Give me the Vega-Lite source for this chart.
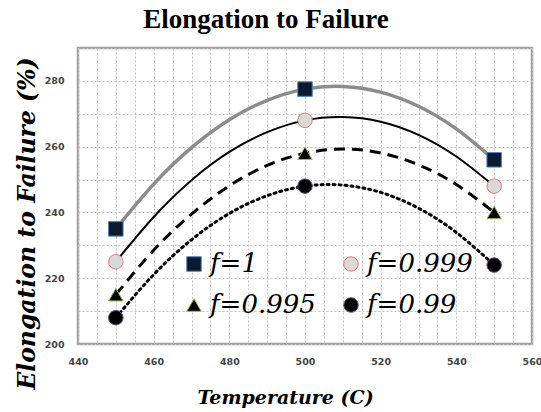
{
  "$schema": "https://vega.github.io/schema/vega-lite/v6.json",
  "width": 454,
  "height": 296,
  "autosize": {"type": "none"},
  "padding": {"left": 78, "top": 48, "right": 9, "bottom": 68},
  "background": "white",
  "config": {
    "view": {"stroke": "#a0a0a0", "strokeWidth": 2.5},
    "axis": {
      "domain": false,
      "ticks": false,
      "grid": true,
      "gridColor": "#c4c4c4",
      "gridDash": [2, 2],
      "gridWidth": 1,
      "labelFont": "DejaVu Sans",
      "labelFontWeight": "bold",
      "labelFontSize": 9.5,
      "labelColor": "#444444",
      "titleFont": "DejaVu Serif",
      "titleFontWeight": "bold",
      "titleFontStyle": "italic",
      "titleColor": "black"
    }
  },
  "title": {
    "text": "Elongation to Failure",
    "font": "Liberation Serif",
    "fontWeight": "bold",
    "fontSize": 27,
    "color": "black",
    "anchor": "middle",
    "dx": -39,
    "offset": 14
  },
  "datasets": {
    "pts": [
      {"series": "f=1", "T": 450, "E": 235},
      {"series": "f=1", "T": 500, "E": 277.5},
      {"series": "f=1", "T": 550, "E": 256},
      {"series": "f=0.999", "T": 450, "E": 225},
      {"series": "f=0.999", "T": 500, "E": 268},
      {"series": "f=0.999", "T": 550, "E": 248},
      {"series": "f=0.995", "T": 450, "E": 215},
      {"series": "f=0.995", "T": 500, "E": 258},
      {"series": "f=0.995", "T": 550, "E": 240},
      {"series": "f=0.99", "T": 450, "E": 208},
      {"series": "f=0.99", "T": 500, "E": 248},
      {"series": "f=0.99", "T": 550, "E": 224}
    ],
    "curves": [
      {"curve": "f=1", "T": 450, "E": 235},
      {"curve": "f=1", "T": 460, "E": 248.6},
      {"curve": "f=1", "T": 470, "E": 259.7},
      {"curve": "f=1", "T": 480, "E": 268.2},
      {"curve": "f=1", "T": 490, "E": 274.1},
      {"curve": "f=1", "T": 500, "E": 277.5},
      {"curve": "f=1", "T": 510, "E": 278.3},
      {"curve": "f=1", "T": 520, "E": 276.6},
      {"curve": "f=1", "T": 530, "E": 272.3},
      {"curve": "f=1", "T": 540, "E": 265.4},
      {"curve": "f=1", "T": 550, "E": 256},
      {"curve": "f=0.999", "T": 450, "E": 225},
      {"curve": "f=0.999", "T": 460, "E": 238.6},
      {"curve": "f=0.999", "T": 470, "E": 249.8},
      {"curve": "f=0.999", "T": 480, "E": 258.4},
      {"curve": "f=0.999", "T": 490, "E": 264.4},
      {"curve": "f=0.999", "T": 500, "E": 268},
      {"curve": "f=0.999", "T": 510, "E": 269},
      {"curve": "f=0.999", "T": 520, "E": 267.6},
      {"curve": "f=0.999", "T": 530, "E": 263.6},
      {"curve": "f=0.999", "T": 540, "E": 257},
      {"curve": "f=0.999", "T": 550, "E": 248},
      {"curve": "f=0.995", "T": 450, "E": 215},
      {"curve": "f=0.995", "T": 460, "E": 228.5},
      {"curve": "f=0.995", "T": 470, "E": 239.5},
      {"curve": "f=0.995", "T": 480, "E": 248.1},
      {"curve": "f=0.995", "T": 490, "E": 254.3},
      {"curve": "f=0.995", "T": 500, "E": 258},
      {"curve": "f=0.995", "T": 510, "E": 259.3},
      {"curve": "f=0.995", "T": 520, "E": 258.1},
      {"curve": "f=0.995", "T": 530, "E": 254.5},
      {"curve": "f=0.995", "T": 540, "E": 248.5},
      {"curve": "f=0.995", "T": 550, "E": 240},
      {"curve": "f=0.99", "T": 450, "E": 208},
      {"curve": "f=0.99", "T": 460, "E": 221.1},
      {"curve": "f=0.99", "T": 470, "E": 231.7},
      {"curve": "f=0.99", "T": 480, "E": 239.7},
      {"curve": "f=0.99", "T": 490, "E": 245.1},
      {"curve": "f=0.99", "T": 500, "E": 248},
      {"curve": "f=0.99", "T": 510, "E": 248.3},
      {"curve": "f=0.99", "T": 520, "E": 246.1},
      {"curve": "f=0.99", "T": 530, "E": 241.3},
      {"curve": "f=0.99", "T": 540, "E": 233.9},
      {"curve": "f=0.99", "T": 550, "E": 224}
    ]
  },
  "encoding": {
    "x": {
      "field": "T",
      "type": "quantitative",
      "scale": {"domain": [440, 560], "nice": false, "zero": false},
      "axis": {
        "title": "Temperature (C)",
        "titleFontSize": 19,
        "values": [440,445,450,455,460,465,470,475,480,485,490,495,500,505,510,515,520,525,530,535,540,545,550,555,560],
        "labelExpr": "datum.value % 20 == 0 ? datum.label : ''",
        "labelPadding": 12,
        "labelFlush": false,
        "titleX": 207,
        "titleY": 53,
        "titleBaseline": "middle",
        "titleAlign": "center"
      }
    },
    "y": {
      "field": "E",
      "type": "quantitative",
      "scale": {"domain": [200, 290], "nice": false, "zero": false},
      "axis": {
        "title": "Elongation to Failure (%)",
        "titleFontSize": 23.5,
        "values": [200,210,220,230,240,250,260,270,280,290],
        "labelExpr": "datum.value % 20 == 0 ? datum.label : ''",
        "labelPadding": 14,
        "titleX": -51,
        "titleY": 175,
        "titleAngle": -90,
        "titleBaseline": "middle",
        "titleAlign": "center"
      }
    }
  },
  "layer": [
    {
      "data": {"name": "curves"},
      "transform": [{"filter": "datum.curve == 'f=1'"}],
      "mark": {"type": "line", "color": "#8c8c8c", "strokeWidth": 3.5, "interpolate": "natural"}
    },
    {
      "data": {"name": "curves"},
      "transform": [{"filter": "datum.curve == 'f=0.999'"}],
      "mark": {"type": "line", "color": "black", "strokeWidth": 2, "interpolate": "natural"}
    },
    {
      "data": {"name": "curves"},
      "transform": [{"filter": "datum.curve == 'f=0.995'"}],
      "mark": {"type": "line", "color": "black", "strokeWidth": 3, "strokeDash": [11, 7], "interpolate": "natural"}
    },
    {
      "data": {"name": "curves"},
      "transform": [{"filter": "datum.curve == 'f=0.99'"}],
      "mark": {"type": "line", "color": "black", "strokeWidth": 3, "strokeDash": [2, 4], "strokeCap": "round", "interpolate": "natural"}
    },
    {
      "data": {"name": "pts"},
      "mark": {"type": "point", "filled": true, "size": 210, "strokeWidth": 1, "opacity": 1},
      "encoding": {
        "shape": {
          "field": "series", "type": "nominal",
          "scale": {"domain": ["f=1", "f=0.995", "f=0.999", "f=0.99"], "range": ["square", "triangle-up", "circle", "circle"]},
          "legend": {
            "title": null,
            "orient": "none",
            "legendX": 103,
            "legendY": 203,
            "columns": 2,
            "columnPadding": 22,
            "rowPadding": 15,
            "symbolSize": 210,
            "symbolStrokeWidth": 1,
            "symbolOpacity": 1,
            "labelFont": "DejaVu Serif",
            "labelFontStyle": "italic",
            "labelFontSize": 26,
            "labelColor": "black",
            "labelOffset": 3,
            "labelLimit": 300
          }
        },
        "fill": {
          "field": "series", "type": "nominal",
          "scale": {"domain": ["f=1", "f=0.995", "f=0.999", "f=0.99"], "range": ["#0c1a30", "#000000", "#d9d9d9", "#000000"]}
        },
        "stroke": {
          "field": "series", "type": "nominal",
          "scale": {"domain": ["f=1", "f=0.995", "f=0.999", "f=0.99"], "range": ["#4f81bd", "#9bbb59", "#e07a7a", "#604a7b"]}
        }
      }
    }
  ]
}
